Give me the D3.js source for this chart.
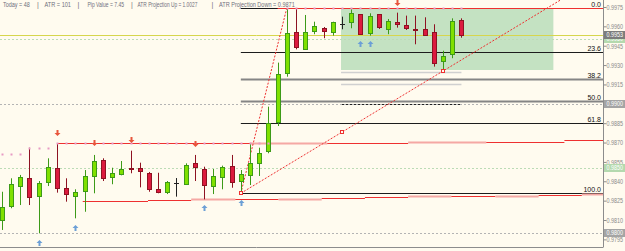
<!DOCTYPE html>
<html>
<head>
<meta charset="utf-8">
<script src="https://cdn.jsdelivr.net/npm/d3@7"></script>
<style>
  body { margin: 0; background: #fffbef; }
  svg { display: block; }
  text { font-family: "Liberation Sans", Arial, sans-serif; }
</style>
</head>
<body>
<div id="chart"></div>
<script>
// ---- data ----
// bar index 0..50
var opens  = [0.98100,0.98209,0.98363,0.98423,0.98281,0.98394,0.98505,0.98346,0.98281,0.98325,
              0.98436,0.98563,0.98436,0.98456,0.98503,0.98503,0.98466,0.98340,0.98312,0.98384,
              0.98374,0.98539,0.98495,0.98363,0.98433,0.98516,0.98402,0.98443,0.98544,0.98635,
              0.98857,0.99236,0.99554,0.99430,0.99566,0.99590,0.99556,0.99618,0.99631,0.99693,
              0.99546,0.99693,0.99577,0.99634,0.99613,0.99577,0.99580,0.99559,0.99329,0.99384,
              0.99649];
var highs  = [0.98319,0.98423,0.98449,0.98660,0.98402,0.98578,0.98694,0.98423,0.98338,0.98487,
              0.98604,0.98578,0.98505,0.98557,0.98637,0.98544,0.98472,0.98466,0.98402,0.98425,
              0.98539,0.98604,0.98513,0.98495,0.98521,0.98604,0.98487,0.98694,0.98660,0.98978,
              0.99319,0.99742,0.99735,0.99688,0.99636,0.99595,0.99636,0.99675,0.99740,0.99695,
              0.99701,0.99695,0.99657,0.99706,0.99683,0.99683,0.99670,0.99616,0.99411,0.99662,
              0.99662];
var lows   = [0.98023,0.98191,0.98216,0.98216,0.97997,0.98363,0.98312,0.98242,0.98113,0.98164,
              0.98307,0.98402,0.98377,0.98446,0.98462,0.98353,0.98319,0.98307,0.98301,0.98281,
              0.98371,0.98402,0.98260,0.98301,0.98338,0.98350,0.98307,0.98371,0.98441,0.98617,
              0.98828,0.99210,0.99422,0.99425,0.99539,0.99508,0.99528,0.99577,0.99585,0.99537,
              0.99528,0.99580,0.99539,0.99590,0.99572,0.99461,0.99533,0.99288,0.99254,0.99353,
              0.99512];
var closes = [0.98203,0.98377,0.98436,0.98276,0.98384,0.98513,0.98353,0.98299,0.98315,0.98441,
              0.98555,0.98423,0.98466,0.98497,0.98499,0.98477,0.98343,0.98319,0.98392,0.98384,
              0.98524,0.98505,0.98374,0.98441,0.98508,0.98392,0.98454,0.98539,0.98621,0.98849,
              0.99229,0.99546,0.99438,0.99559,0.99603,0.99566,0.99634,0.99618,0.99701,0.99539,
              0.99680,0.99590,0.99639,0.99618,0.99593,0.99575,0.99535,0.99319,0.99370,0.99639,
              0.99531];

var headerTexts = ["Today = 48", "|", "ATR = 101", "|", "Pip Value = 7.45", "|",
                   "ATR Projection Up = 1.0027", "|", "ATR Projection Down = 0.9871"];

var axisTicks = [0.9975,0.9960,0.9945,0.9930,0.9915,0.9900,0.9885,0.9870,0.9855,0.9840,0.9825,0.9810,0.9795];

// highlighted price labels on the scale
var markPrices = [0.9950, 0.9900, 0.9850, 0.9800, 0.9953];
var markKinds  = ["green", "gray", "green", "gray", "bid"];

// fibonacci retracement
var fibLevels = [0, 23.6, 38.2, 50.0, 61.8, 100.0];
var fibHigh = 0.99742, fibLow = 0.98307;
var fibFrom = 26, fibTo = 31;

// trend line (two anchor lows)
var trendA = [26, 0.98307], trendB = [48, 0.99254];

// resistance dots (bar, price)
var resDotBars   = [0,1,2,3,4,5,6,7,8,9,10,11,12,13,14,15,16,17,18,19,20,21,22,23,24,25,26,27,28,29,
                    31,32,33,34,35,36,37,38,39,40,41,42,43,44,45,46,47,48,49,50];
var resDotPrices = [0.98609,0.98609,0.98609,0.98660,0.98660,0.98660,0.98694,0.98694,0.98694,0.98694,
                    0.98694,0.98694,0.98694,0.98694,0.98694,0.98694,0.98694,0.98694,0.98694,0.98694,
                    0.98694,0.98694,0.98694,0.98694,0.98694,0.98694,0.98694,0.98694,0.98694,0.98694,
                    0.99742,0.99742,0.99742,0.99742,0.99742,0.99742,0.99742,0.99742,0.99742,0.99742,
                    0.99742,0.99742,0.99742,0.99742,0.99742,0.99742,0.99742,0.99742,0.99742,0.99742];

// ATR projection segments: [fromBar, toBar, price, kind]
var upperSegs = [[6, 27, 0.98694, "now"], [27, 35.4, 0.98694, "old"], [35.4, 44.2, 0.98700, "now"],
                 [44.2, 52.7, 0.98707, "old"], [52.7, 61.2, 0.98707, "now"], [61.2, 65.4, 0.98717, "now"],
                 [30, 65.4, 0.99742, "now"]];
var lowerSegs = [[8.8, 15.9, 0.98247, "now"], [15.9, 20.6, 0.98255, "now"], [20.6, 25.4, 0.98259, "old"],
                 [25.4, 30.1, 0.98259, "now"], [30.1, 34.8, 0.98265, "old"], [34.8, 39.5, 0.98270, "now"],
                 [39.5, 44.2, 0.98275, "now"], [44.2, 48.9, 0.98283, "old"], [48.9, 53.7, 0.98288, "now"],
                 [53.7, 58.4, 0.98288, "old"], [58.4, 63.1, 0.98291, "now"], [63.1, 65.4, 0.98301, "old"]];

// range box and day lines
var boxBars = [36.9, 60.0], boxPrices = [0.99742, 0.99262];
var dayLineBars = [36.9, 50];
var dayLinePrices = [0.99249, 0.99151, 0.99001];
var dayLineKinds  = ["light", "light", "dark"];

// arrows
var upArrowBars = [4, 8, 22, 26, 39, 40];
var upArrowPrices = [0.97920, 0.98040, 0.98191, 0.98229, 0.99463, 0.99463];
var downArrowBars = [6, 10, 14, 21, 43];
var downArrowPrices = [0.98772, 0.98694, 0.98720, 0.98691, 0.99781];

// ---- drawing ----
var W = 625, H = 251, plotW = 603, plotH = 247;

var svg = d3.select("#chart").append("svg")
  .attr("width", W)
  .attr("height", H);

svg.append("rect").attr("width", W).attr("height", H).attr("fill", "#fffbef");

var x = d3.scaleLinear().domain([-0.2, 65.4]).range([0, plotW]);
var y = d3.scaleLinear().domain([0.99804, 0.97891]).range([0, plotH]);

// squeeze a text horizontally to a wanted width (terminal font is narrow)
function squeeze(sel, left, base, width) {
  var w = sel.node().getComputedTextLength();
  var s = w > 0 ? Math.min(1, width / w) : 1;
  sel.attr("x", 0).attr("y", 0)
     .attr("transform", "translate(" + left + "," + base + ") scale(" + s + ",1)");
}

var plot = svg.append("g");

// range box
plot.append("rect")
  .attr("x", x(boxBars[0])).attr("y", y(boxPrices[0]))
  .attr("width", x(boxBars[1]) - x(boxBars[0]))
  .attr("height", y(boxPrices[1]) - y(boxPrices[0]))
  .attr("fill", "#c4e2c2");

// day lines in range
dayLinePrices.forEach(function(p, i) {
  plot.append("line")
    .attr("x1", x(dayLineBars[0])).attr("x2", x(dayLineBars[1]))
    .attr("y1", Math.round(y(p)) + 0.5).attr("y2", Math.round(y(p)) + 0.5)
    .attr("stroke", dayLineKinds[i] == "dark" ? "#222" : "#d0d0d0")
    .attr("stroke-width", dayLineKinds[i] == "dark" ? 1 : 1.5);
});

// level lines
markPrices.forEach(function(p, i) {
  var k = markKinds[i];
  var yy = Math.round(y(p)) + 0.5;
  plot.append("line")
    .attr("x1", 0).attr("x2", plotW).attr("y1", yy).attr("y2", yy)
    .attr("stroke", k == "bid" ? "#d6d64c" : (k == "green" ? "#bcdcb6" : "#b4b4b4"))
    .attr("stroke-dasharray", k == "bid" ? null : "2,2");
});

// fibonacci
fibLevels.forEach(function(f) {
  var p = fibHigh - (fibHigh - fibLow) * f / 100;
  var yy = Math.round(y(p)) + 0.5;
  var grey = (f == 38.2 || f == 50.0);
  plot.append("line")
    .attr("x1", x(fibFrom)).attr("x2", plotW).attr("y1", yy).attr("y2", yy)
    .attr("stroke", grey ? "#858585" : "#1c1c1c")
    .attr("stroke-width", grey ? 2 : 1);
  plot.append("text")
    .attr("x", plotW - 2).attr("y", yy - 1.5)
    .attr("text-anchor", "end")
    .attr("font-size", "7px")
    .attr("fill", "#111")
    .text(f.toFixed(1));
});

// ATR projection lines
function drawSegs(segs) {
  segs.forEach(function(s) {
    var yy = Math.round(y(s[2])) + 0.5;
    plot.append("line")
      .attr("x1", x(s[0])).attr("x2", x(s[1])).attr("y1", yy).attr("y2", yy)
      .attr("stroke", s[3] == "now" ? "#ee3030" : "#f5a8a4")
      .attr("stroke-width", s[3] == "now" ? 1 : 2);
  });
}
drawSegs(upperSegs);
drawSegs(lowerSegs);

// fib connecting line
plot.append("line")
  .attr("x1", x(fibFrom)).attr("y1", y(fibLow))
  .attr("x2", x(fibTo)).attr("y2", y(fibHigh))
  .attr("stroke", "#ee3030").attr("stroke-dasharray", "2,1.5");

// trend line through two lows, extended right
var slope = (trendB[1] - trendA[1]) / (trendB[0] - trendA[0]);
var endBar = 65.4;
plot.append("line")
  .attr("x1", x(trendA[0])).attr("y1", y(trendA[1]))
  .attr("x2", x(endBar)).attr("y2", y(trendA[1] + slope * (endBar - trendA[0])))
  .attr("stroke", "#ee3030").attr("stroke-dasharray", "2,1.5");

// candles
var bars = plot.selectAll(".bar")
  .data(d3.range(opens.length))
  .enter().append("g").attr("class", "bar");

function cx(i) { return Math.round(x(i)); }

bars.append("line")
  .attr("x1", function(i) { return cx(i) + 0.5; })
  .attr("x2", function(i) { return cx(i) + 0.5; })
  .attr("y1", function(i) { return y(highs[i]); })
  .attr("y2", function(i) { return y(lows[i]); })
  .attr("stroke", function(i) {
    if (opens[i] == closes[i]) return "#222";
    return closes[i] > opens[i] ? "#3d9a18" : "#8e1222";
  });

bars.filter(function(i) { return opens[i] != closes[i]; })
  .append("rect")
  .attr("x", function(i) { return cx(i) - 1.5; })
  .attr("width", 4)
  .attr("y", function(i) { return Math.round(y(Math.max(opens[i], closes[i]))) + 0.5; })
  .attr("height", function(i) { return Math.max(1, Math.round(Math.abs(y(opens[i]) - y(closes[i])))); })
  .attr("fill", function(i) { return closes[i] > opens[i] ? "#7fe000" : "#dc1a3e"; })
  .attr("stroke", function(i) { return closes[i] > opens[i] ? "#3d9a18" : "#8e1222"; });

bars.filter(function(i) { return opens[i] == closes[i]; })
  .append("line")
  .attr("x1", function(i) { return cx(i) - 2; })
  .attr("x2", function(i) { return cx(i) + 3; })
  .attr("y1", function(i) { return Math.round(y(opens[i])) + 0.5; })
  .attr("y2", function(i) { return Math.round(y(opens[i])) + 0.5; })
  .attr("stroke", "#222");

// resistance dots
resDotBars.forEach(function(b, i) {
  plot.append("rect")
    .attr("x", cx(b) - 0.5).attr("y", Math.round(y(resDotPrices[i])) - 0.5)
    .attr("width", 2).attr("height", 2)
    .attr("fill", "#e79ac4");
});

// trend line handles
[trendA, [(trendA[0] + trendB[0]) / 2, (trendA[1] + trendB[1]) / 2], trendB].forEach(function(pt) {
  plot.append("rect")
    .attr("x", Math.round(x(pt[0])) - 1.5).attr("y", Math.round(y(pt[1])) - 1.5)
    .attr("width", 3).attr("height", 3)
    .attr("fill", "#fffbef").attr("stroke", "#ee3030");
});

// arrows
upArrowBars.forEach(function(b, i) {
  var ax = cx(b) + 0.5, ay = Math.round(y(upArrowPrices[i]));
  plot.append("path")
    .attr("d", "M" + (ax - 3) + "," + (ay) + "L" + ax + "," + (ay - 3) + "L" + (ax + 3) + "," + ay +
               "L" + (ax + 1) + "," + ay + "L" + (ax + 1) + "," + (ay + 3) + "L" + (ax - 1) + "," + (ay + 3) +
               "L" + (ax - 1) + "," + ay + "Z")
    .attr("fill", "#6c9fd6");
});
downArrowBars.forEach(function(b, i) {
  var ax = cx(b) + 0.5, ay = Math.round(y(downArrowPrices[i]));
  plot.append("path")
    .attr("d", "M" + (ax - 3) + "," + (ay) + "L" + ax + "," + (ay + 3) + "L" + (ax + 3) + "," + ay +
               "L" + (ax + 1) + "," + ay + "L" + (ax + 1) + "," + (ay - 3) + "L" + (ax - 1) + "," + (ay - 3) +
               "L" + (ax - 1) + "," + ay + "Z")
    .attr("fill", "#e8563c");
});

// header text
var headerX = [3, 37, 44.5, 77.5, 87.5, 131, 137.5, 211.5, 219];
var headerW = [27, 2, 26.5, 2, 36.5, 2, 60, 2, 76];
headerTexts.forEach(function(t, i) {
  var tx = svg.append("text")
    .attr("font-size", "7px")
    .attr("fill", "#6f6f7c")
    .text(t);
  squeeze(tx, headerX[i], 6.8, headerW[i]);
});

// price axis
var axisG = svg.append("g")
  .attr("transform", "translate(" + (plotW + 0.5) + ",0)")
  .call(d3.axisRight(y).tickValues(axisTicks).tickFormat(d3.format(".4f")).tickSize(3).tickPadding(1));
axisG.select(".domain").attr("stroke", "#8c8c8c").attr("d", "M0,0V" + plotH);
axisG.selectAll(".tick line").attr("stroke", "#8c8c8c");
axisG.selectAll(".tick text")
  .attr("font-size", "6.5px")
  .attr("font-family", "'Liberation Sans', Arial, sans-serif")
  .attr("fill", "#8a8a8a")
  .attr("dy", null)
  .each(function() { squeeze(d3.select(this), 3, 2.3, 16.5); });

svg.append("line")
  .attr("x1", 0).attr("x2", plotW + 0.5).attr("y1", plotH + 0.5).attr("y2", plotH + 0.5)
  .attr("stroke", "#8c8c8c");

// highlighted price labels
markPrices.forEach(function(p, i) {
  var k = markKinds[i];
  var yy = Math.round(y(p));
  svg.append("rect")
    .attr("x", plotW + 1).attr("y", yy - 4).attr("width", W - plotW - 1).attr("height", 8)
    .attr("fill", k == "bid" ? "#7c7c7c" : (k == "green" ? "#b4d9ae" : "#a4a4a4"));
  var t = svg.append("text")
    .attr("font-size", "6.5px")
    .attr("fill", "#ffffff")
    .text(d3.format(".4f")(p));
  squeeze(t, plotW + 3.5, yy + 2.3, 16.5);
});
</script>
</body>
</html>
